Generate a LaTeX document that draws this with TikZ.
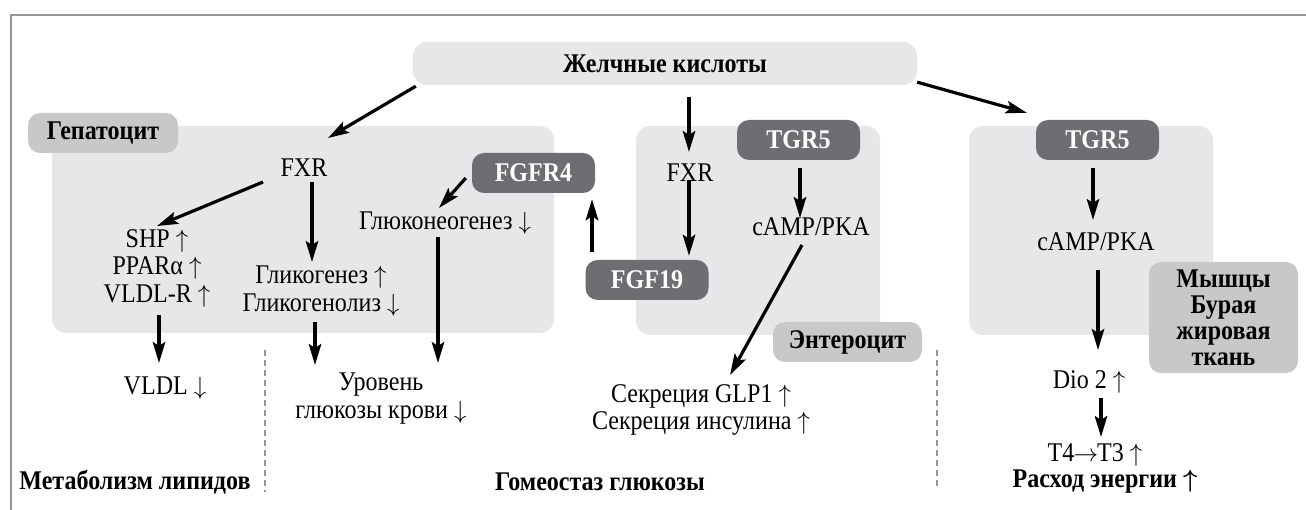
\documentclass[tikz,border=0pt]{standalone}
\usepackage{fontspec}
\setmainfont[FakeStretch=0.89]{Liberation Serif}
\usetikzlibrary{arrows.meta,positioning}
\definecolor{cellgray}{RGB}{230,231,232}
\definecolor{taggray}{RGB}{199,200,202}
\definecolor{recgray}{RGB}{109,110,113}
\definecolor{framegray}{RGB}{147,149,152}
\newcommand{\figfont}{\fontsize{27}{27.5}\selectfont}
\newcommand{\incr}{\ensuremath{\uparrow}}
\newcommand{\decr}{\ensuremath{\downarrow}}
\tikzset{
  cell/.style={fill=cellgray, rounded corners=14pt, inner sep=0pt},
  tag/.style={fill=taggray, rounded corners=12pt, font=\figfont\bfseries, inner sep=0pt, align=center},
  rec/.style={fill=recgray, text=white, rounded corners=12pt, font=\figfont\bfseries,
    inner sep=0pt, minimum width=123pt, minimum height=40pt},
  lbl/.style={inner sep=0pt, align=center},
  arr/.style={line width=3.2pt, -{Stealth[length=21pt,width=12.5pt,inset=4pt]}},
  sep/.style={framegray, line width=2pt, dash pattern=on 6pt off 4pt}
}

\begin{document}
\begin{tikzpicture}[x=1pt, y=-1pt, font=\figfont]
  \useasboundingbox (0,0) rectangle (1306,510);
  \draw[framegray, line width=2.8pt] (1306,15) -- (11,15) -- (11,510);

  % cells
  \node[cell, minimum width=502pt, minimum height=207pt] (hep) at (303,229.5) {};
  \node[cell, minimum width=244pt, minimum height=209pt] (ent) at (758,230.5) {};
  \node[cell, minimum width=244pt, minimum height=209pt] (mus) at (1091,230.5) {};
  \node[cell, minimum width=504pt, minimum height=43pt, font=\figfont\bfseries] (bile) at (665,63.5) {Желчные кислоты};

  \node[tag, minimum width=150pt, minimum height=40pt] (heptag) at (103,133) {Гепатоцит};
  \node[tag, minimum width=149pt, minimum height=40pt] (enttag) at (847.5,342) {Энтероцит};
  \node[tag, minimum width=149pt, minimum height=111pt, font=\fontsize{27}{26}\selectfont\bfseries] (mustag) at (1223.5,317.5) {Мышцы\\Бурая\\жировая\\ткань};

  % receptors
  \node[rec] (fgfr4) at (533.5,173) {FGFR4};
  \node[rec] (tgr5m) at (798.5,140) {TGR5};
  \node[rec] (tgr5r) at (1097.5,140) {TGR5};
  \node[rec] (fgf19) at (647,280) {FGF19};

  % hepatocyte
  \node[lbl] (fxrl) at (304,168) {FXR};
  \node[lbl] (lipid) at (157,268) {SHP \incr\\PPARα \incr\\VLDL-R \incr};
  \node[lbl] (glyc) at (321,291) {Гликогенез \incr\\Гликогенолиз \decr};
  \node[lbl] (gneo) at (445,223) {Глюконеогенез \decr};
  \node[lbl] (vldl) at (165,388) {VLDL \decr};
  \node[lbl] (blood) at (381,398.5) {Уровень\\глюкозы крови \decr};

  % enterocyte
  \node[lbl] (fxrm) at (690,173) {FXR};
  \node[lbl] (campm) at (811,227) {cAMP/PKA};
  \node[lbl] (secr) at (701,410) {Секреция GLP1 \incr\\Секреция инсулина \incr};

  % muscle
  \node[lbl] (campr) at (1096,242) {cAMP/PKA};
  \node[lbl] (dio) at (1089,382) {Dio 2 \incr};
  \node[lbl] (t4) at (1095,455) {T4\kern-1pt$\rightarrow$\kern-1ptT3 \incr};

  % bottom captions
  \node[lbl, font=\figfont\bfseries] (lipcap) at (135,482) {Метаболизм липидов};
  \node[lbl, font=\figfont\bfseries] (glucap) at (600,482) {Гомеостаз глюкозы};
  \node[lbl, font=\figfont\bfseries\boldmath] (encap) at (1105,482) {Расход энергии \incr};

  \draw[sep] (265,350) -- (265,492);
  \draw[sep] (937,350) -- (937,488);

  % arrows
  \draw[arr] ([shift={(3,1)}]bile.south west) -- ([shift={(24,-30)}]fxrl.center);
  \draw[arr] ([shift={(-41,14)}]fxrl.center) -- ([shift={(0,-42)}]lipid.center);
  \draw[arr] ([shift={(8,14)}]fxrl.center) -- ([shift={(-9,-29)}]glyc.center);
  \draw[arr] ([shift={(-6,5)}]fgfr4.west) -- ([shift={(-6,-15)}]gneo.center);
  \draw[arr] ([shift={(-7,14)}]gneo.center) -- ([shift={(57,-35.5)}]blood.center);
  \draw[arr] ([shift={(-6,31)}]glyc.center) -- ([shift={(-66,-33.5)}]blood.center);
  \draw[arr] ([shift={(2,47)}]lipid.center) -- ([shift={(-6,-25)}]vldl.center);
  \draw[arr] ([shift={(24,12)}]bile.south) -- ([shift={(-1,-21)}]fxrm.center);
  \draw[arr] ([shift={(-1,7)}]fxrm.center) -- ([shift={(42,-4)}]fgf19.north);
  \draw[arr] ([shift={(-55,-8)}]fgf19.north) -- ([shift={(58.5,6)}]fgfr4.south);
  \draw[arr] ([shift={(1.5,8)}]tgr5m.south) -- ([shift={(-11,-9)}]campm.center);
  \draw[arr] ([shift={(-9,18)}]campm.center) -- ([shift={(29,-35)}]secr.center);
  \draw[arr] ([shift={(0,-3)}]bile.south east) -- ([shift={(-9,-7)}]tgr5r.north west);
  \draw[arr] ([shift={(-4.5,8)}]tgr5r.south) -- ([shift={(-3,-22)}]campr.center);
  \draw[arr] ([shift={(2,28)}]campr.center) -- ([shift={(9,-32)}]dio.center);
  \draw[arr] ([shift={(12,16)}]dio.center) -- ([shift={(6,-18)}]t4.center);
\end{tikzpicture}
\end{document}
